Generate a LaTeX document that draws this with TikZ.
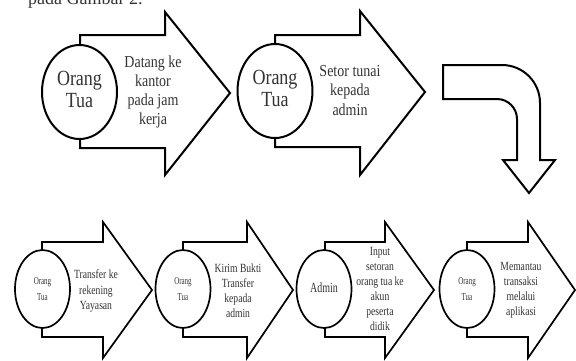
\documentclass[tikz,border=0pt]{standalone}
\usepackage{fontspec}
\setmainfont{Liberation Serif}
\usepackage{graphicx}
\usetikzlibrary{shapes.geometric}
\newcommand\vtext[4]{\scalebox{1}[#1]{\fontsize{#2}{#3}\selectfont\begin{tabular}{@{}c@{}}#4\end{tabular}}}
\begin{document}
\begin{tikzpicture}[x=1pt,y=-1pt,
  bigarrow/.style={draw=black, fill=white, line width=2pt, line join=miter},
  smallarrow/.style={draw=black, fill=white, line width=1.7pt, line join=miter},
  bigcirc/.style={ellipse, draw=black, fill=white, line width=2pt, inner sep=0pt,
    minimum width=75pt, minimum height=94pt, text=black!80},
  smallcirc/.style={ellipse, draw=black, fill=white, line width=1.7pt, inner sep=0pt,
    minimum width=55pt, minimum height=78pt, text=black!80},
  lbl/.style={inner sep=0pt, text=black!80}]
\useasboundingbox (0,0) rectangle (576,360);
\clip (0,0) rectangle (576,360);

% clipped caption line at the top
\node[anchor=base west, inner sep=0pt, text=black!80, font=\fontsize{18}{20}\selectfont] (cap) at (28,4) {pada Gambar 2.};

% ---- row 1 ----
\draw[bigarrow] (80,35) -- (165,35) -- (165,12) -- (230,93) -- (165,175) -- (165,148) -- (80,148) -- cycle;
\node[bigcirc] (c1) at (79.5,92) {\vtext{1.2}{18}{19}{Orang\\Tua}};
\node[lbl] (t1) at (153,92) {\vtext{1.2}{14}{16}{Datang ke\\kantor\\pada jam\\kerja}};

\draw[bigarrow] (275,35) -- (360,35) -- (360,11) -- (425,92) -- (360,175) -- (360,147) -- (275,147) -- cycle;
\node[bigcirc] (c2) at (275,91) {\vtext{1.2}{18}{19}{Orang\\Tua}};
\node[lbl] (t2) at (350,92) {\vtext{1.2}{14}{16.5}{Setor tunai\\kepada\\admin}};

% bent arrow
\draw[bigarrow] (443,65) -- (502,65) .. controls (523,65) and (540,82) .. (540,103)
  -- (540,160) -- (555,160) -- (529,193) -- (503,160) -- (517,160) -- (517,119)
  .. controls (517,108) and (508,99) .. (497,99) -- (443,99) -- cycle;

% ---- row 2 ----
\draw[smallarrow] (42,242) -- (103,242) -- (103,222) -- (152,290) -- (103,358) -- (103,337) -- (42,337) -- cycle;
\node[smallcirc] (c3) at (42.5,289) {\vtext{1.5}{7}{11}{Orang\\Tua}};
\node[lbl] (t3) at (96,291) {\vtext{1.3}{9.6}{12}{Transfer ke\\rekening\\Yayasan}};

\draw[smallarrow] (183,242) -- (247,242) -- (247,222) -- (293,290) -- (247,358) -- (247,337) -- (183,337) -- cycle;
\node[smallcirc] (c4) at (183,289) {\vtext{1.5}{7}{11}{Orang\\Tua}};
\node[lbl] (t4) at (238,292) {\vtext{1.3}{9.6}{11.5}{Kirim Bukti\\Transfer\\kepada\\admin}};

\draw[smallarrow] (325,242) -- (385,242) -- (385,222) -- (434,290) -- (385,358) -- (385,337) -- (325,337) -- cycle;
\node[smallcirc] (c5) at (324,289) {\vtext{1.4}{10}{12}{Admin}};
\node[lbl] (t5) at (380,290) {\vtext{1.3}{9.6}{11.5}{Input\\setoran\\orang tua ke\\akun\\peserta\\didik}};

\draw[smallarrow] (467,242) -- (528,242) -- (528,222) -- (575,290) -- (528,358) -- (528,337) -- (467,337) -- cycle;
\node[smallcirc] (c6) at (467,289) {\vtext{1.5}{7}{11}{Orang\\Tua}};
\node[lbl] (t6) at (521,290) {\vtext{1.3}{9.6}{11.5}{Memantau\\transaksi\\melalui\\aplikasi}};
\end{tikzpicture}
\end{document}
